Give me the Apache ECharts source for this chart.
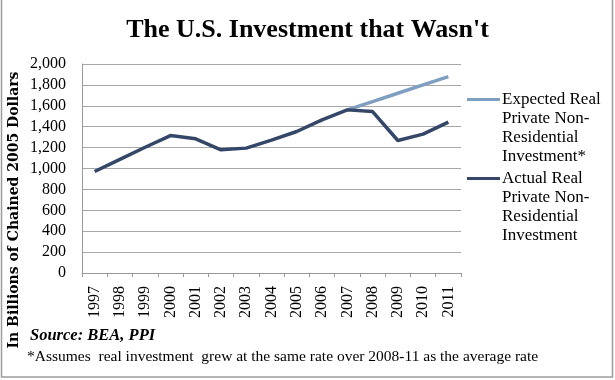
<!DOCTYPE html>
<html>
<head>
<meta charset="utf-8">
<script src="https://cdn.jsdelivr.net/npm/echarts@6/dist/echarts.min.js"></script>
<style>html,body{margin:0;padding:0;background:#fff}#c{width:615px;height:380px}</style>
</head>
<body>
<div id="c"></div>
<script>
var years = ['1997','1998','1999','2000','2001','2002','2003','2004','2005','2006','2007','2008','2009','2010','2011'];
var actual = [971, 1088, 1203, 1315, 1284, 1179, 1195, 1271, 1354, 1466, 1561, 1545, 1268, 1329, 1443];
var expected = [null, null, null, null, null, null, null, null, null, null, 1561, 1640, 1720, 1800, 1880];
var yTicks = [0, 200, 400, 600, 800, 1000, 1200, 1400, 1600, 1800, 2000];
var seriesNames = ['Expected Real\nPrivate Non-\nResidential\nInvestment*', 'Actual Real\nPrivate Non-\nResidential\nInvestment'];
var titleText = "The U.S. Investment that Wasn't";
var yName = 'In Billions of Chained 2005 Dollars';
var sourceText = 'Source: BEA, PPI';
var noteText = '*Assumes  real investment  grew at the same rate over 2008-11 as the average rate';

var colExpected = '#7f9fc2';
var colActual = '#344769';
var serif = '"Liberation Serif", "Times New Roman", serif';

function legendFmt(name) {
  var lines = name.split('\n');
  var out = [];
  for (var i = 0; i < lines.length; i++) {
    out.push((i === 0 ? (name === seriesNames[0] ? '{sw1|}' : '{sw2|}') : '{pad|}') + '{t|' + lines[i] + '}');
  }
  return out.join('\n');
}

var chart = echarts.init(document.getElementById('c'), null, {renderer: 'canvas'});
chart.setOption({
  animation: false,
  backgroundColor: '#fff',
  title: {
    text: titleText,
    left: 'center',
    top: 12,
    textStyle: {fontFamily: serif, fontWeight: 'bold', fontSize: 26, color: '#000'}
  },
  grid: {left: 82, right: 154, top: 64, bottom: 107, containLabel: false},
  legend: {
    orient: 'vertical',
    left: 462,
    top: 91,
    padding: 0,
    icon: 'none',
    itemWidth: 0,
    itemHeight: 10,
    itemGap: 5,
    selectedMode: false,
    data: seriesNames,
    formatter: legendFmt,
    textStyle: {
      fontFamily: serif, fontSize: 17, color: '#000', padding: 0,
      rich: {
        t: {fontFamily: serif, fontSize: 17, color: '#000', lineHeight: 19, padding: [0, 0, 0, 2]},
        sw1: {width: 33, height: 3, backgroundColor: colExpected, lineHeight: 19},
        sw2: {width: 33, height: 3, backgroundColor: colActual, lineHeight: 19},
        pad: {width: 33, height: 3, lineHeight: 19}
      }
    }
  },
  xAxis: {
    type: 'category',
    data: years,
    boundaryGap: true,
    axisLine: {lineStyle: {color: '#9a9a9a', width: 1}},
    axisTick: {show: true, length: 4, lineStyle: {color: '#9a9a9a'}},
    axisLabel: {rotate: 90, margin: 13, fontFamily: serif, fontSize: 16, color: '#000', interval: 0}
  },
  yAxis: {
    type: 'value',
    min: yTicks[0],
    max: yTicks[yTicks.length - 1],
    interval: 200,
    axisLine: {show: true, lineStyle: {color: '#9a9a9a', width: 1}},
    axisTick: {show: false},
    splitLine: {lineStyle: {color: '#a8a8a8', width: 1}},
    axisLabel: {
      margin: 16, fontFamily: serif, fontSize: 16, color: '#000',
      formatter: function (v) { return v.toLocaleString('en-US'); }
    }
  },
  series: [
    {
      name: seriesNames[0], type: 'line', data: expected, symbol: 'none',
      lineStyle: {color: colExpected, width: 3.5}, itemStyle: {color: colExpected}, z: 2
    },
    {
      name: seriesNames[1], type: 'line', data: actual, symbol: 'none',
      lineStyle: {color: colActual, width: 3.5}, itemStyle: {color: colActual}, z: 3
    }
  ],
  graphic: [
    {type: 'rect', shape: {x: 1.5, y: -5, width: 611, height: 382}, style: {fill: 'none', stroke: '#9c9c9c', lineWidth: 1.5}, silent: true},
    {type: 'text', x: 14, y: 210, rotation: Math.PI / 2,
     style: {text: yName, font: 'bold 14px "DejaVu Serif", serif', fill: '#000', align: 'center', verticalAlign: 'middle'}},
    {type: 'text', left: 30, top: 327, style: {text: sourceText, font: 'italic bold 16.5px ' + serif, fill: '#000'}},
    {type: 'text', left: 27, top: 349, style: {text: noteText, font: '15.5px ' + serif, fill: '#000'}}
  ]
});
</script>
</body>
</html>
